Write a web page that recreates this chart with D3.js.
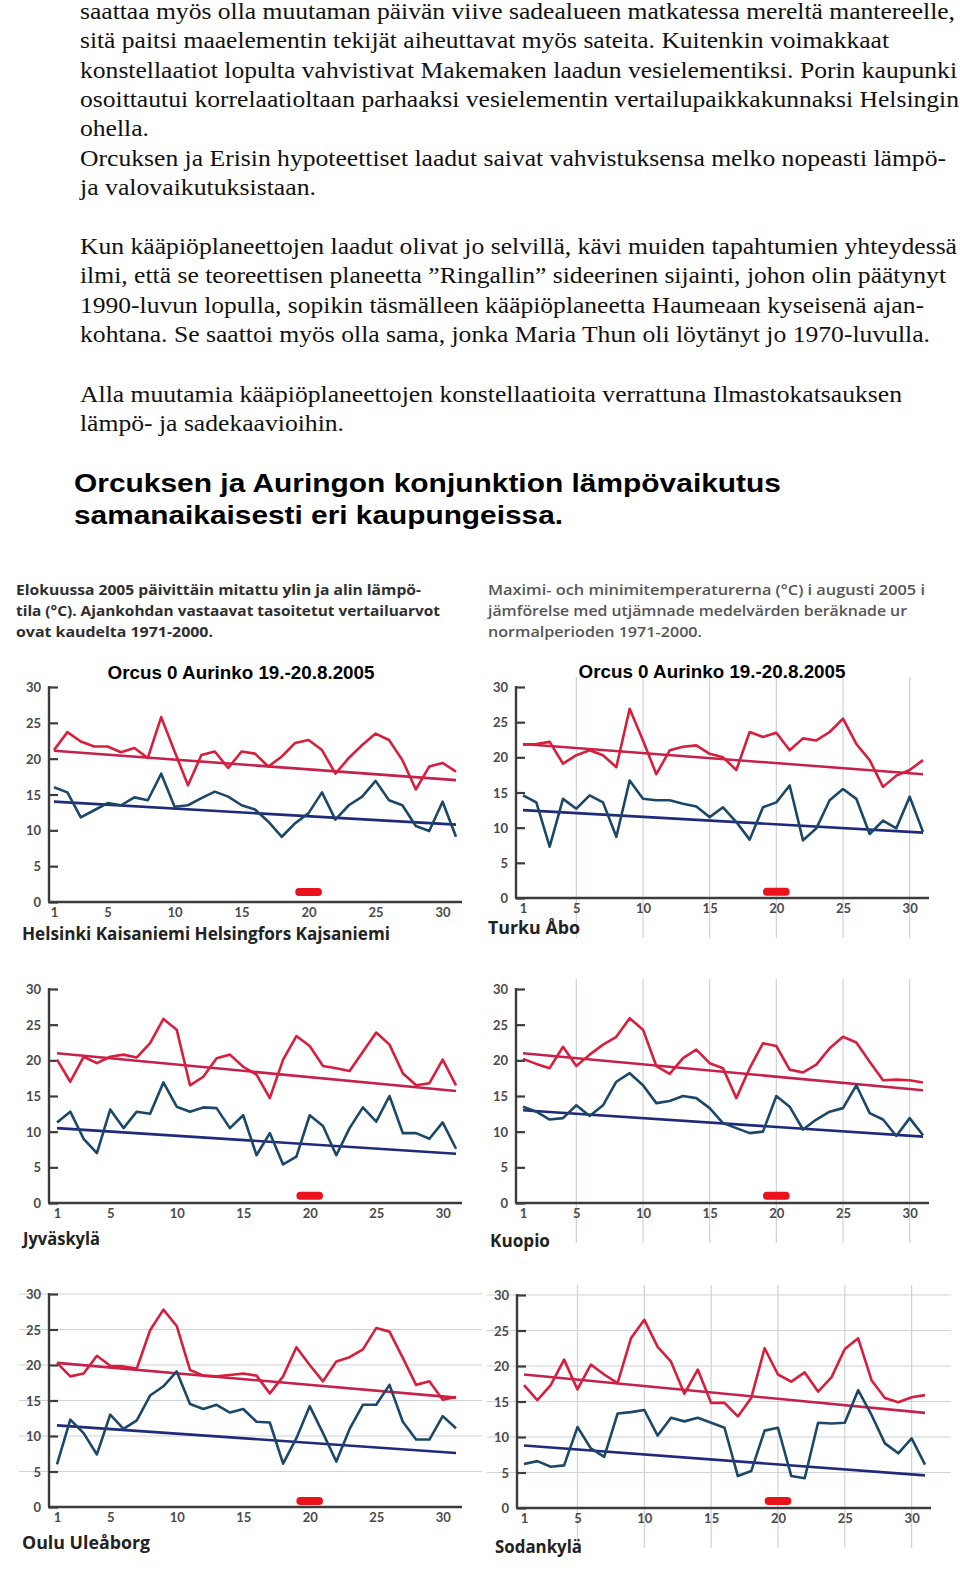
<!DOCTYPE html>
<html>
<head>
<meta charset="utf-8">
<script src="https://cdn.jsdelivr.net/npm/d3@7/dist/d3.min.js"></script>
<style>
  html, body { margin: 0; padding: 0; background: #ffffff; }
  svg { display: block; }
</style>
</head>
<body>
<div id="chart"></div>
<script>
// ---------------- DATA ----------------
const introLines = [
  "saattaa myös olla muutaman päivän viive sadealueen matkatessa mereltä mantereelle,",
  "sitä paitsi maaelementin tekijät aiheuttavat myös sateita. Kuitenkin voimakkaat",
  "konstellaatiot lopulta vahvistivat Makemaken laadun vesielementiksi. Porin kaupunki",
  "osoittautui korrelaatioltaan parhaaksi vesielementin vertailupaikkakunnaksi Helsingin",
  "ohella.",
  "Orcuksen ja Erisin hypoteettiset laadut saivat vahvistuksensa melko nopeasti lämpö-",
  "ja valovaikutuksistaan.",
  "Kun kääpiöplaneettojen laadut olivat jo selvillä, kävi muiden tapahtumien yhteydessä",
  "ilmi, että se teoreettisen planeetta ”Ringallin” sideerinen sijainti, johon olin päätynyt",
  "1990-luvun lopulla, sopikin täsmälleen kääpiöplaneetta Haumeaan kyseisenä ajan-",
  "kohtana. Se saattoi myös olla sama, jonka Maria Thun oli löytänyt jo 1970-luvulla.",
  "Alla muutamia kääpiöplaneettojen konstellaatioita verrattuna Ilmastokatsauksen",
  "lämpö- ja sadekaavioihin."
];
const mainTitle = ["Orcuksen ja Auringon konjunktion lämpövaikutus", "samanaikaisesti eri kaupungeissa."];
const noteFi = ["Elokuussa 2005 päivittäin mitattu ylin ja alin lämpö-",
                "tila (°C). Ajankohdan vastaavat tasoitetut vertailuarvot",
                "ovat kaudelta 1971-2000."];
const noteSv = ["Maximi- och minimitemperaturerna (°C) i augusti 2005 i",
                "jämförelse med utjämnade medelvärden beräknade ur",
                "normalperioden 1971-2000."];
const panelTitle = "Orcus 0 Aurinko 19.-20.8.2005";

const days = [1,2,3,4,5,6,7,8,9,10,11,12,13,14,15,16,17,18,19,20,21,22,23,24,25,26,27,28,29,30,31];
const xTicks = [1,5,10,15,20,25,30];
const yTicks = [0,5,10,15,20,25,30];
const normalDays = [1, 31];
const conjunctionDays = [19.3, 20.7];

const cities = ["Helsinki Kaisaniemi Helsingfors Kajsaniemi", "Turku Åbo", "Jyväskylä", "Kuopio", "Oulu Uleåborg", "Sodankylä"];

const helsinkiMax = [21.2,23.7,22.4,21.7,21.7,20.9,21.5,20.1,25.8,21.0,16.3,20.5,21.0,18.7,21.0,20.7,18.9,20.3,22.2,22.6,21.2,17.9,20.1,21.9,23.5,22.6,19.8,15.7,18.9,19.4,18.2];
const helsinkiMin = [16.0,15.3,11.8,12.8,13.8,13.5,14.6,14.2,17.9,13.3,13.5,14.5,15.4,14.7,13.5,12.9,11.2,9.1,11.0,12.4,15.3,11.5,13.5,14.7,16.9,14.2,13.5,10.6,9.9,14.0,9.1];
const helsinkiNormMax = [21.1, 17.0];
const helsinkiNormMin = [14.0, 10.8];

const turkuMax = [21.8,21.9,22.2,19.1,20.3,21.0,20.3,18.6,26.9,22.4,17.6,21.0,21.5,21.7,20.5,20.0,18.2,23.6,22.9,23.5,21.0,22.7,22.4,23.6,25.5,21.9,19.6,15.8,17.4,18.2,19.6];
const turkuMin = [14.6,13.6,7.3,14.1,12.7,14.6,13.6,8.7,16.7,14.1,13.9,13.9,13.4,13.0,11.5,12.9,10.8,8.3,12.9,13.6,16.0,8.2,9.9,13.9,15.5,14.1,9.1,11.0,9.9,14.4,9.4];
const turkuNormMax = [21.9, 17.6];
const turkuNormMin = [12.5, 9.3];

const jyvaskylaMax = [20.1,17.0,20.5,19.6,20.5,20.8,20.4,22.4,25.8,24.3,16.5,17.7,20.3,20.8,19.1,18.0,14.7,20.1,23.4,22.0,19.2,18.9,18.5,21.2,23.9,22.2,18.2,16.5,16.8,20.1,16.5];
const jyvaskylaMin = [11.3,12.8,9.0,7.0,13.1,10.5,12.8,12.5,16.9,13.5,12.8,13.4,13.3,10.5,12.3,6.7,9.8,5.4,6.5,12.3,10.8,6.7,10.5,13.4,11.4,15.0,9.8,9.8,9.0,11.3,7.6];
const jyvaskylaNormMax = [21.0, 15.7];
const jyvaskylaNormMin = [10.5, 6.9];

const kuopioMax = [20.2,19.5,18.9,21.9,19.2,20.8,22.2,23.3,25.9,24.3,19.2,18.1,20.3,21.5,19.6,18.9,14.7,18.9,22.4,22.0,18.7,18.3,19.4,21.7,23.3,22.5,19.8,17.2,17.3,17.2,16.9];
const kuopioMin = [13.5,12.8,11.7,11.9,13.7,12.2,13.7,17.0,18.2,16.5,14.0,14.3,15.0,14.7,13.3,11.2,10.5,9.8,10.0,15.0,13.5,10.3,11.7,12.8,13.3,16.5,12.6,11.7,9.4,11.9,9.5];
const kuopioNormMax = [21.0, 15.8];
const kuopioNormMin = [13.0, 9.3];

const ouluMax = [20.3,18.4,18.8,21.3,19.9,19.8,19.5,24.9,27.8,25.5,19.3,18.5,18.4,18.6,18.8,18.5,16.0,18.4,22.5,20.0,17.7,20.5,21.1,22.2,25.2,24.7,21.0,17.2,17.7,15.1,15.5];
const ouluMin = [6.0,12.3,10.4,7.4,13.0,11.0,12.2,15.7,17.0,19.1,14.5,13.8,14.4,13.3,13.8,12.0,11.9,6.1,9.7,14.2,10.4,6.4,11.0,14.4,14.4,17.2,12.0,9.5,9.5,12.8,11.1];
const ouluNormMax = [20.3, 15.4];
const ouluNormMin = [11.5, 7.6];

const sodankylaMax = [17.3,15.2,17.3,20.9,16.7,20.2,18.8,17.6,23.9,26.5,22.7,20.6,16.1,19.5,14.8,14.8,12.9,15.5,22.5,18.8,17.8,19.1,16.4,18.4,22.4,23.9,18.0,15.5,14.9,15.6,15.9];
const sodankylaMin = [6.2,6.6,5.8,6.0,11.4,8.4,7.2,13.3,13.5,13.8,10.2,12.7,12.2,12.7,12.0,11.3,4.5,5.2,10.9,11.3,4.5,4.2,12.0,11.9,12.0,16.6,13.1,9.1,7.7,9.8,6.1];
const sodankylaNormMax = [18.8, 13.4];
const sodankylaNormMin = [8.8, 4.6];

const conjunctionLevel = [1.4, 0.9, 1.0, 1.0, 0.85, 1.0];

// ---------------- LAYOUT / STYLE ----------------
const W = 960, H = 1576;
const svg = d3.select("#chart").append("svg").attr("width", W).attr("height", H);

const C = {
  maxLine: "#d71f3d",
  maxNorm: "#c4214c",
  minLine: "#1b4868",
  minNorm: "#202a7a",
  axis: "#3c3c3c",
  tick: "#4a4a4a",
  grid: "#cfd2d8"
};

// intro paragraph
const introBase = [19, 48.3, 77.6, 107, 136.3, 165.6, 195, 254, 283.4, 312.7, 342, 402, 431.3];
const introWidth = [875, 809, 877, 879, 69, 866, 236, 877, 866, 844, 850, 822, 264];
svg.append("g").selectAll("text").data(introLines).join("text")
  .attr("x", 80).attr("y", (d, i) => introBase[i])
  .attr("textLength", (d, i) => introWidth[i])
  .attr("lengthAdjust", "spacingAndGlyphs")
  .style("font-family", "'Liberation Serif', 'Times New Roman', serif")
  .style("font-size", "23px").style("fill", "#111")
  .text(d => d);

// main title
const titleBase = [492, 524];
const titleWidth = [707, 489];
svg.append("g").selectAll("text").data(mainTitle).join("text")
  .attr("x", 74).attr("y", (d, i) => titleBase[i])
  .attr("textLength", (d, i) => titleWidth[i])
  .attr("lengthAdjust", "spacingAndGlyphs")
  .style("font-family", "'Liberation Sans', Arial, sans-serif")
  .style("font-weight", "bold").style("font-size", "25px").style("fill", "#000")
  .text(d => d);

// header notes
const noteBase = [595, 616, 637];
const noteFiW = [405, 424, 197];
const noteSvW = [437, 419, 214];
svg.append("g").selectAll("text").data(noteFi).join("text")
  .attr("x", 16).attr("y", (d, i) => noteBase[i])
  .attr("textLength", (d, i) => noteFiW[i]).attr("lengthAdjust", "spacingAndGlyphs")
  .style("font-family", "'Open Sans', 'DejaVu Sans', sans-serif").style("font-weight", "bold")
  .style("font-size", "15px").style("fill", "#2e2e2e").text(d => d);
svg.append("g").selectAll("text").data(noteSv).join("text")
  .attr("x", 488).attr("y", (d, i) => noteBase[i])
  .attr("textLength", (d, i) => noteSvW[i]).attr("lengthAdjust", "spacingAndGlyphs")
  .style("font-family", "'Open Sans', 'DejaVu Sans', sans-serif").style("font-weight", "600")
  .style("font-size", "15px").style("fill", "#555").text(d => d);

// panels
const panels = [
  { city: 0, max: helsinkiMax, min: helsinkiMin, nMax: helsinkiNormMax, nMin: helsinkiNormMin,
    ax: 49, x1: 54, x31: 456, xEnd: 462, y30: 687, y0: 902, title: [241, 679], label: [22, 940, 368], vgrid: false, hgrid: false },
  { city: 1, max: turkuMax, min: turkuMin, nMax: turkuNormMax, nMin: turkuNormMin,
    ax: 516, x1: 523, x31: 923, xEnd: 929, y30: 687, y0: 898, title: [712, 678], label: [488, 934, 92], vgrid: true, hgrid: false },
  { city: 2, max: jyvaskylaMax, min: jyvaskylaMin, nMax: jyvaskylaNormMax, nMin: jyvaskylaNormMin,
    ax: 49, x1: 57, x31: 456, xEnd: 462, y30: 989, y0: 1203, title: null, label: [23, 1245, 77], vgrid: false, hgrid: false },
  { city: 3, max: kuopioMax, min: kuopioMin, nMax: kuopioNormMax, nMin: kuopioNormMin,
    ax: 516, x1: 523, x31: 923, xEnd: 929, y30: 989, y0: 1203, title: null, label: [490, 1247, 60], vgrid: true, hgrid: false },
  { city: 4, max: ouluMax, min: ouluMin, nMax: ouluNormMax, nMin: ouluNormMin,
    ax: 49, x1: 57, x31: 456, xEnd: 462, y30: 1294, y0: 1507, title: null, label: [22, 1549, 128], vgrid: false, hgrid: true },
  { city: 5, max: sodankylaMax, min: sodankylaMin, nMax: sodankylaNormMax, nMin: sodankylaNormMin,
    ax: 517, x1: 524, x31: 925, xEnd: 931, y30: 1295, y0: 1508, title: null, label: [495, 1553, 87], vgrid: true, hgrid: true }
];

const tickFont = "'Lato', 'Open Sans', 'DejaVu Sans', sans-serif";

panels.forEach(p => {
  const g = svg.append("g");
  const x = d3.scaleLinear().domain([days[0], days[days.length - 1]]).range([p.x1, p.x31]);
  const y = d3.scaleLinear().domain([0, 30]).range([p.y0, p.y30]);

  // faint background grid (scanned map lines)
  if (p.vgrid) {
    g.append("g").selectAll("line").data(xTicks.slice(1)).join("line")
      .attr("x1", d => x(d)).attr("x2", d => x(d))
      .attr("y1", y(30) - 10).attr("y2", p.y0 + 40)
      .attr("stroke", C.grid).attr("stroke-width", 1.2);
  }
  if (p.hgrid) {
    g.append("g").selectAll("line").data(yTicks.slice(1)).join("line")
      .attr("x1", p.ax - 30).attr("x2", p.xEnd + 20)
      .attr("y1", d => y(d)).attr("y2", d => y(d))
      .attr("stroke", C.grid).attr("stroke-width", 1.2);
  }

  // y axis (ticks pointing inward)
  const yAxis = d3.axisRight(y).tickValues(yTicks).tickSize(9).tickFormat("");
  const ya = g.append("g").attr("transform", `translate(${p.ax},0)`).call(yAxis);
  ya.select(".domain").remove();
  ya.selectAll(".tick line").attr("stroke", C.axis).attr("stroke-width", 2.2);
  g.append("line").attr("x1", p.ax).attr("x2", p.ax).attr("y1", y(30) - 1).attr("y2", p.y0)
    .attr("stroke", C.axis).attr("stroke-width", 2.4);
  g.append("g").selectAll("text").data(yTicks).join("text")
    .attr("x", p.ax - 8).attr("y", d => y(d) + 5)
    .attr("text-anchor", "end")
    .style("font-family", tickFont).style("font-weight", "bold")
    .style("font-size", "13px").style("fill", C.tick).text(d => d);

  // x axis
  const xAxis = d3.axisBottom(x).tickValues(xTicks).tickSize(0).tickFormat(d => d);
  const xa = g.append("g").attr("transform", `translate(0,${p.y0})`).call(xAxis);
  xa.select(".domain").remove();
  xa.selectAll(".tick text").attr("dy", 0).attr("y", 15)
    .style("font-family", tickFont).style("font-weight", "bold")
    .style("font-size", "13px").style("fill", C.tick);
  g.append("line").attr("x1", p.ax - 1).attr("x2", p.xEnd).attr("y1", p.y0).attr("y2", p.y0)
    .attr("stroke", C.axis).attr("stroke-width", 2.4);

  // conjunction marker
  g.append("line")
    .attr("x1", x(conjunctionDays[0])).attr("x2", x(conjunctionDays[1]))
    .attr("y1", y(conjunctionLevel[p.city])).attr("y2", y(conjunctionLevel[p.city]))
    .attr("stroke", "#e8131b").attr("stroke-width", 8).attr("stroke-linecap", "round");

  const line = d3.line().x((d, i) => x(days[i])).y(d => y(d));
  const normLine = d3.line().x((d, i) => x(normalDays[i])).y(d => y(d));

  g.append("path").datum(p.nMax).attr("d", normLine).attr("fill", "none")
    .attr("stroke", C.maxNorm).attr("stroke-width", 2.6);
  g.append("path").datum(p.nMin).attr("d", normLine).attr("fill", "none")
    .attr("stroke", C.minNorm).attr("stroke-width", 2.6);
  g.append("path").datum(p.max).attr("d", line).attr("fill", "none")
    .attr("stroke", C.maxLine).attr("stroke-width", 2.6).attr("stroke-linejoin", "round");
  g.append("path").datum(p.min).attr("d", line).attr("fill", "none")
    .attr("stroke", C.minLine).attr("stroke-width", 2.6).attr("stroke-linejoin", "round");

  if (p.title) {
    g.append("text").attr("x", p.title[0]).attr("y", p.title[1])
      .attr("text-anchor", "middle")
      .attr("textLength", 267).attr("lengthAdjust", "spacingAndGlyphs")
      .style("font-family", "'Liberation Sans', Arial, sans-serif").style("font-weight", "bold")
      .style("font-size", "18px").style("fill", "#000").text(panelTitle);
  }

  g.append("text").attr("x", p.label[0]).attr("y", p.label[1])
    .attr("textLength", p.label[2]).attr("lengthAdjust", "spacingAndGlyphs")
    .style("font-family", "'Open Sans', 'DejaVu Sans', sans-serif").style("font-weight", "bold")
    .style("font-size", "17px").style("fill", "#222").text(cities[p.city]);
});
</script>
</body>
</html>
